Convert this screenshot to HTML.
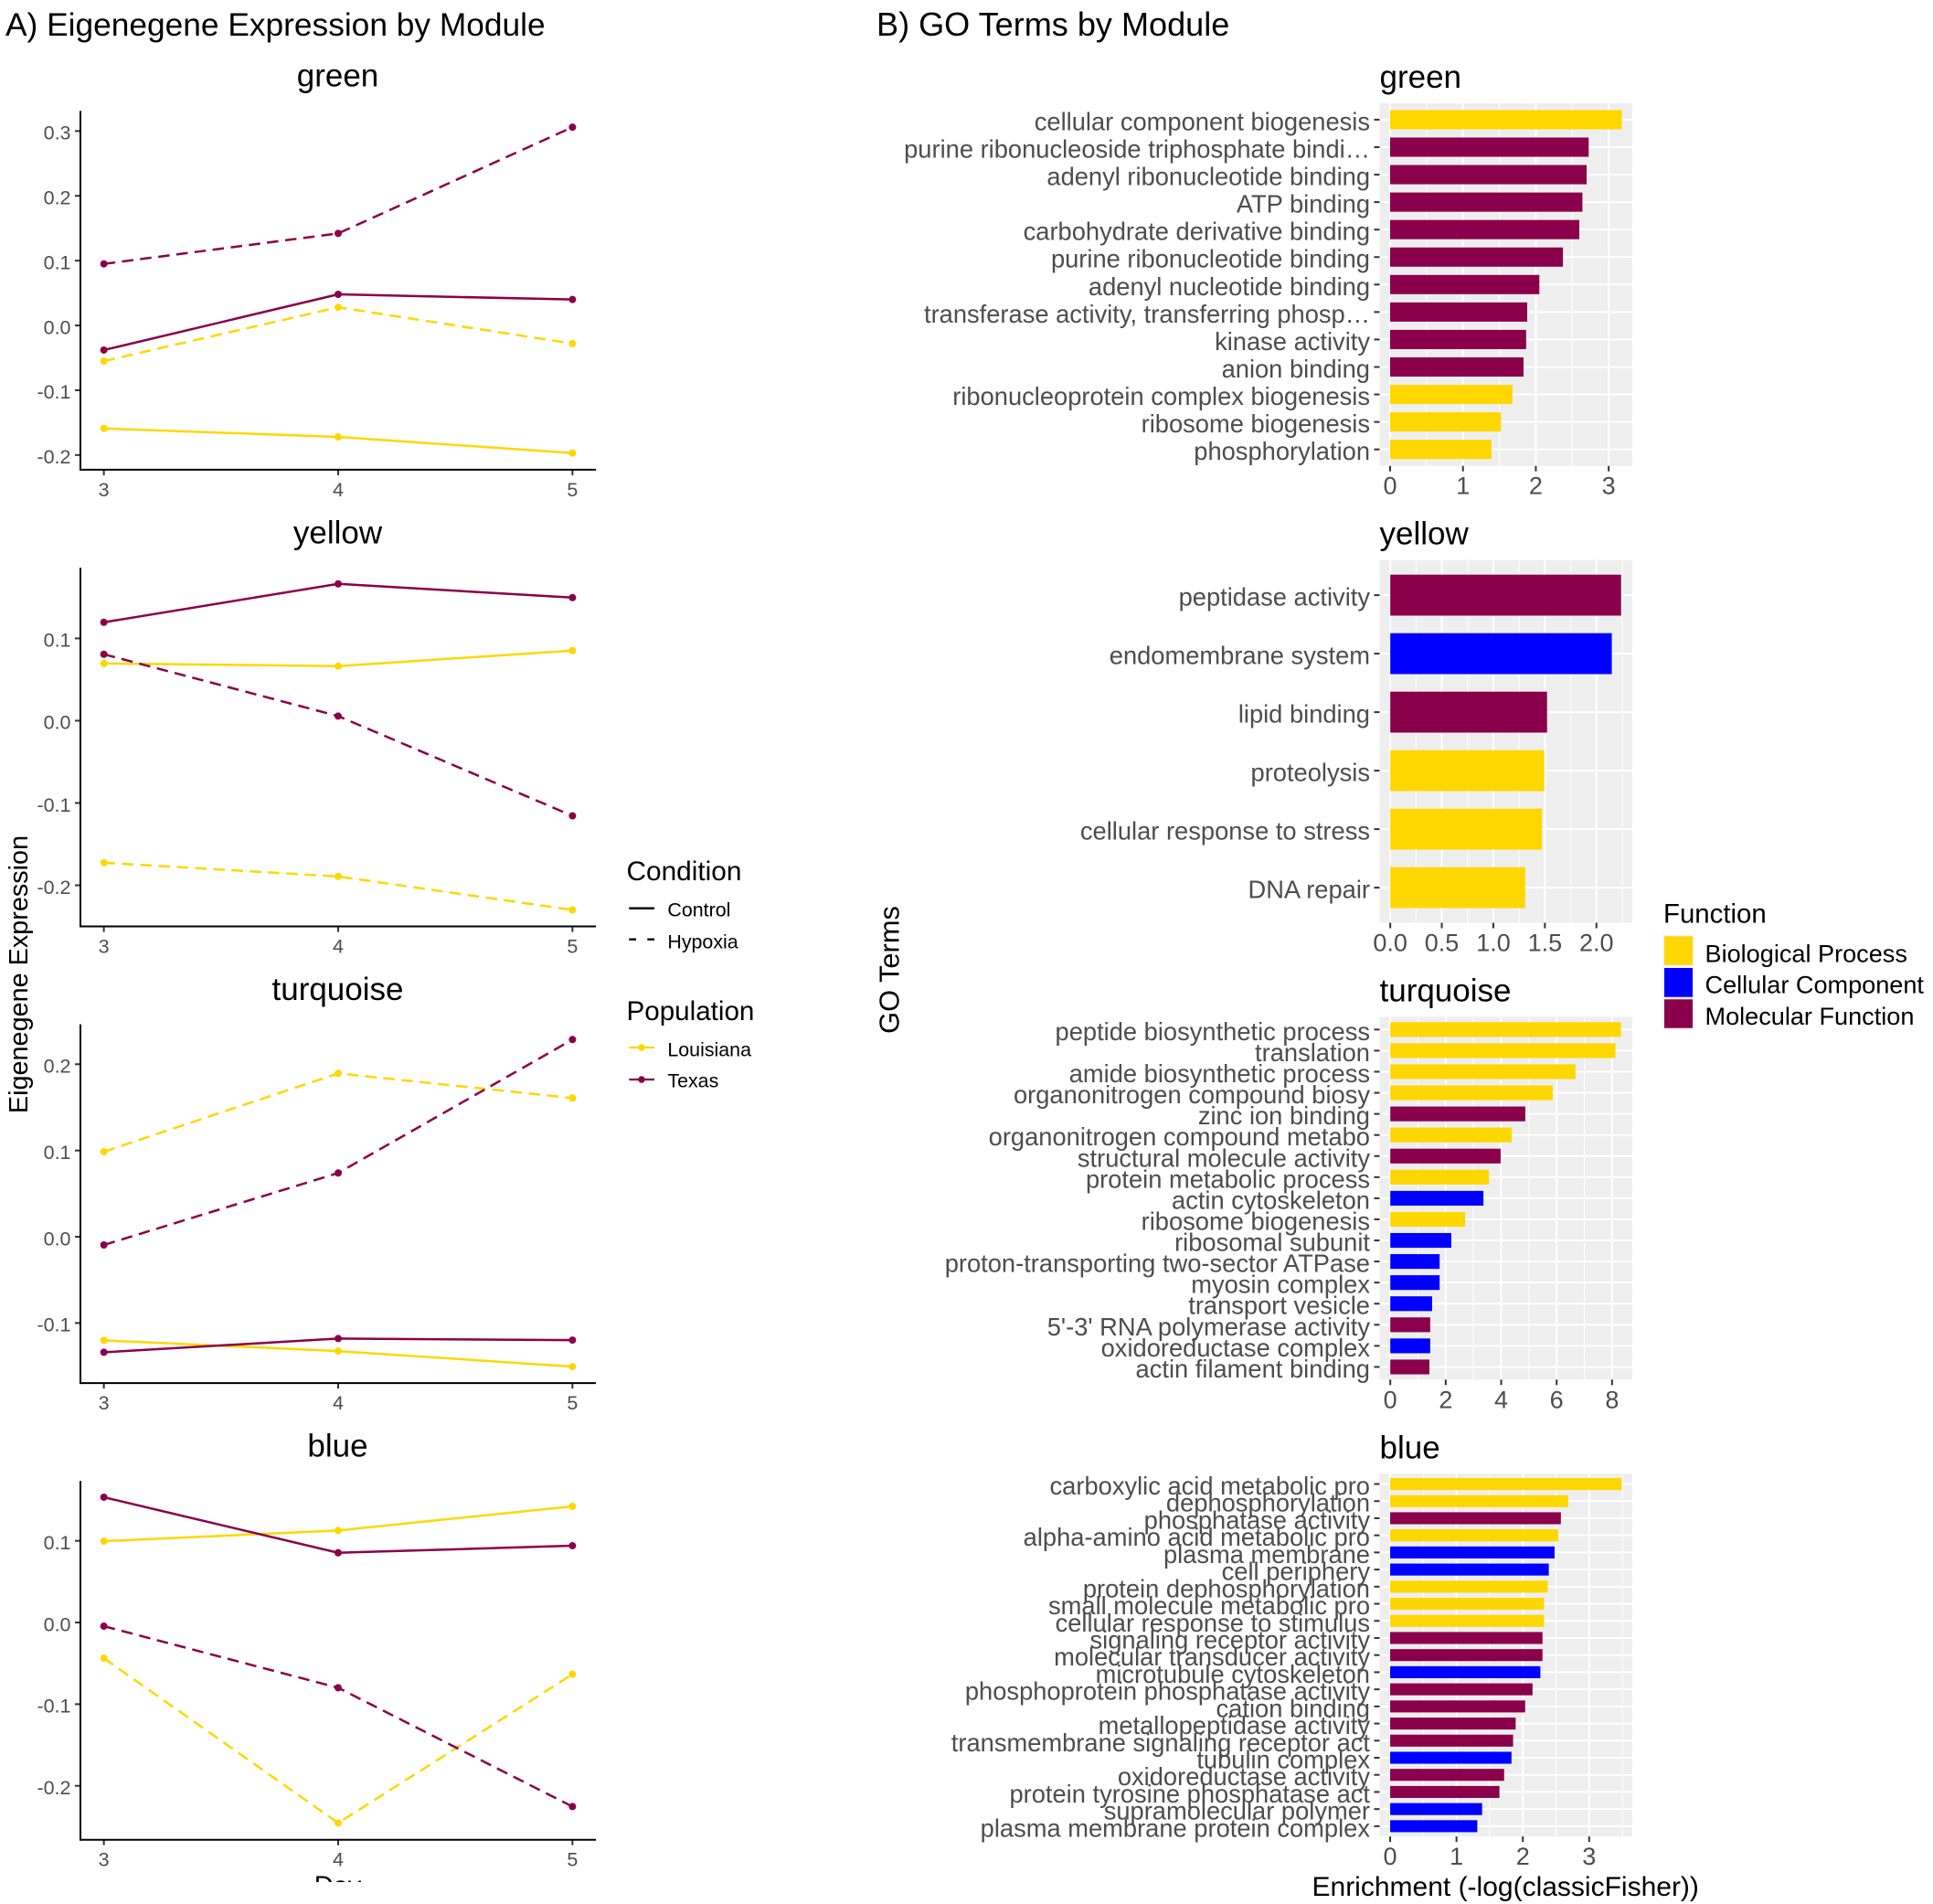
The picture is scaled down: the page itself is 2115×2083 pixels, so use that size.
<!DOCTYPE html>
<html lang="en">
<head>
<meta charset="utf-8">
<title>Eigengene Expression and GO Terms by Module</title>
<style>
html,body{margin:0;padding:0;background:#fff;}
svg{display:block;font-family:"Liberation Sans",Arial,sans-serif;}
</style>
</head>
<body>
<svg id="figure" xmlns="http://www.w3.org/2000/svg" width="2115" height="2083" viewBox="0 0 2115 2083">
  <rect x="0" y="0" width="2115" height="2083" fill="#ffffff"/>
  <text x="6" y="39" font-size="35.3" fill="#000">A) Eigenegene Expression by Module</text>
  <text x="959" y="39" font-size="36.1" fill="#000">B) GO Terms by Module</text>
  <text transform="translate(30 1066) rotate(-90)" text-anchor="middle" font-size="28.8" fill="#000">Eigenegene Expression</text>
  <text transform="translate(983.5 1061) rotate(-90)" text-anchor="middle" font-size="30.8" fill="#000">GO Terms</text>
  <text x="1435.5" y="2074" font-size="30" fill="#000">Enrichment (-log(classicFisher))</text>
  <clipPath id="day-clip"><rect x="300" y="2040" width="140" height="19"/></clipPath>
  <text x="369.5" y="2072.5" text-anchor="middle" font-size="29" fill="#000" clip-path="url(#day-clip)">Day</text>

  <g>
    <text x="685.5" y="963" font-size="29.8" fill="#000">Condition</text>
    <line x1="688.3" y1="993.7" x2="716" y2="993.7" stroke="#000" stroke-width="2.3"/>
    <text x="730.4" y="1002.5" font-size="21.4" fill="#000">Control</text>
    <line x1="688.3" y1="1027.7" x2="716" y2="1027.7" stroke="#000" stroke-width="2.3" stroke-dasharray="7.7 12.3 7.7"/>
    <text x="730.4" y="1037.7" font-size="21.4" fill="#000">Hypoxia</text>
  </g>
  <g>
    <text x="685.5" y="1116" font-size="29.6" fill="#000">Population</text>
    <line x1="688.3" y1="1146" x2="716" y2="1146" stroke="#FFD700" stroke-width="2.3"/>
    <circle cx="702" cy="1146" r="3.7" fill="#FFD700"/>
    <text x="730.4" y="1155.7" font-size="21.4" fill="#000">Louisiana</text>
    <line x1="688.3" y1="1181" x2="716" y2="1181" stroke="#8B004B" stroke-width="2.3"/>
    <circle cx="702" cy="1181" r="3.7" fill="#8B004B"/>
    <text x="730.4" y="1189.7" font-size="21.4" fill="#000">Texas</text>
  </g>
  <g>
    <text x="1820" y="1009.5" font-size="29.4" fill="#000">Function</text>
    <rect x="1819.3" y="1022.5" width="34" height="103.5" fill="#F2F2F2"/>
    <rect x="1821" y="1024.3" width="31" height="31.4" fill="#FFD700"/>
    <text x="1865.5" y="1052.7" font-size="27.1" fill="#000">Biological Process</text>
    <rect x="1821" y="1059" width="31" height="31.7" fill="#0000FF"/>
    <text x="1865.5" y="1086.7" font-size="27.1" fill="#000">Cellular Component</text>
    <rect x="1821" y="1093.3" width="31" height="31.4" fill="#8B004B"/>
    <text x="1865.5" y="1121" font-size="27.1" fill="#000">Molecular Function</text>
  </g>
</svg>

<script>
// ---------- Panel A data ----------
const days = [3, 4, 5];
const dayDomain = [2.9, 5.1];

const greenLouisianaControl = [-0.159, -0.172, -0.197];
const greenLouisianaHypoxia = [-0.055, 0.028, -0.028];
const greenTexasControl = [-0.038, 0.048, 0.040];
const greenTexasHypoxia = [0.095, 0.142, 0.306];
const greenExprTicks = [-0.2, -0.1, 0.0, 0.1, 0.2, 0.3];
const greenExprDomain = [-0.2227, 0.331];

const yellowLouisianaControl = [0.0696, 0.0663, 0.0852];
const yellowLouisianaHypoxia = [-0.1726, -0.1893, -0.23];
const yellowTexasControl = [0.1196, 0.1663, 0.1496];
const yellowTexasHypoxia = [0.0807, 0.0056, -0.1156];
const yellowExprTicks = [-0.2, -0.1, 0.0, 0.1];
const yellowExprDomain = [-0.25, 0.186];

const turquoiseLouisianaControl = [-0.1201, -0.1325, -0.1505];
const turquoiseLouisianaHypoxia = [0.0986, 0.1894, 0.1608];
const turquoiseTexasControl = [-0.1339, -0.118, -0.1198];
const turquoiseTexasHypoxia = [-0.0095, 0.0739, 0.2286];
const turquoiseExprTicks = [-0.1, 0.0, 0.1, 0.2];
const turquoiseExprDomain = [-0.1696, 0.2463];

const blueLouisianaControl = [0.0996, 0.1127, 0.1422];
const blueLouisianaHypoxia = [-0.0437, -0.2455, -0.0634];
const blueTexasControl = [0.1534, 0.0854, 0.094];
const blueTexasHypoxia = [-0.0045, -0.0799, -0.2254];
const blueExprTicks = [-0.2, -0.1, 0.0, 0.1];
const blueExprDomain = [-0.266, 0.1733];

// ---------- Panel B data ----------
const greenTerms = ["cellular component biogenesis","purine ribonucleoside triphosphate bindi…","adenyl ribonucleotide binding","ATP binding","carbohydrate derivative binding","purine ribonucleotide binding","adenyl nucleotide binding","transferase activity, transferring phosp…","kinase activity","anion binding","ribonucleoprotein complex biogenesis","ribosome biogenesis","phosphorylation"];
const greenEnrichment = [3.18, 2.725, 2.697, 2.639, 2.596, 2.372, 2.048, 1.882, 1.867, 1.831, 1.68, 1.521, 1.391];
const greenFunctions = ["BP","MF","MF","MF","MF","MF","MF","MF","MF","MF","BP","BP","BP"];
const greenGoTicks = [0, 1, 2, 3];
const greenGoDomain = [-0.144, 3.324];

const yellowTerms = ["peptidase activity","endomembrane system","lipid binding","proteolysis","cellular response to stress","DNA repair"];
const yellowEnrichment = [2.239, 2.149, 1.521, 1.494, 1.472, 1.309];
const yellowFunctions = ["MF","CC","MF","BP","BP","BP"];
const yellowGoTicks = [0.0, 0.5, 1.0, 1.5, 2.0];
const yellowGoDomain = [-0.1035, 2.348];

const turquoiseTerms = ["peptide biosynthetic process","translation","amide biosynthetic process","organonitrogen compound biosy","zinc ion binding","organonitrogen compound metabo","structural molecule activity","protein metabolic process","actin cytoskeleton","ribosome biogenesis","ribosomal subunit","proton-transporting two-sector ATPase","myosin complex","transport vesicle","5'-3' RNA polymerase activity","oxidoreductase complex","actin filament binding"];
const turquoiseEnrichment = [8.32, 8.12, 6.68, 5.86, 4.87, 4.38, 3.98, 3.56, 3.36, 2.70, 2.20, 1.78, 1.78, 1.51, 1.44, 1.44, 1.41];
const turquoiseFunctions = ["BP","BP","BP","BP","MF","BP","MF","BP","CC","BP","CC","CC","CC","CC","MF","CC","MF"];
const turquoiseGoTicks = [0, 2, 4, 6, 8];
const turquoiseGoDomain = [-0.385, 8.73];

const blueTerms = ["carboxylic acid metabolic pro","dephosphorylation","phosphatase activity","alpha-amino acid metabolic pro","plasma membrane","cell periphery","protein dephosphorylation","small molecule metabolic pro","cellular response to stimulus","signaling receptor activity","molecular transducer activity","microtubule cytoskeleton","phosphoprotein phosphatase activity","cation binding","metallopeptidase activity","transmembrane signaling receptor act","tubulin complex","oxidoreductase activity","protein tyrosine phosphatase act","supramolecular polymer","plasma membrane protein complex"];
const blueEnrichment = [3.49, 2.684, 2.573, 2.534, 2.478, 2.391, 2.375, 2.32, 2.32, 2.296, 2.296, 2.264, 2.146, 2.035, 1.892, 1.853, 1.829, 1.718, 1.647, 1.386, 1.314];
const blueFunctions = ["BP","BP","MF","BP","CC","CC","BP","BP","BP","MF","MF","CC","MF","MF","MF","MF","CC","MF","MF","CC","CC"];
const blueGoTicks = [0, 1, 2, 3];
const blueGoDomain = [-0.159, 3.65];

// ---------- Drawing ----------
const GOLD = "#FFD700", MAROON = "#8B004B", BLUE = "#0000FF";
const functionColors = { BP: GOLD, CC: BLUE, MF: MAROON };
const NS = "http://www.w3.org/2000/svg";
const svg = document.getElementById("figure");

function setAttrs(el, attrs) {
  Object.keys(attrs).forEach(function (k) { el.setAttribute(k, attrs[k]); });
  return el;
}
function linear(domain, range) {
  return function (v) {
    return range[0] + (v - domain[0]) / (domain[1] - domain[0]) * (range[1] - range[0]);
  };
}

function drawLinePanel(name, index, series, ticks, domain) {
  const top = 121.4 + 499.6 * index;
  const bottom = top + 392.5;
  const left = 88, right = 652;
  const xs = linear(dayDomain, [left, right]);
  const ys = linear(domain, [bottom, top]);

  const g = document.createElementNS(NS, "g");
  
  
  svg.appendChild(g);

  const title = document.createElementNS(NS, "text");
  
  
  setAttrs(title, { x: 369.5, y: top - 26.7, "text-anchor": "middle", "font-size": 35, fill: "#000" });
  title.textContent = name;
  g.appendChild(title);

  ticks.forEach(function (t) {
    const tick = document.createElementNS(NS, "line");
    
    
    setAttrs(tick, { x1: left - 6, x2: left, y1: ys(t), y2: ys(t), stroke: "#333", "stroke-width": 2 });
    g.appendChild(tick);
    const lab = document.createElementNS(NS, "text");
    
    
    setAttrs(lab, { x: left - 10.5, y: ys(t) + 9.3, "text-anchor": "end", "font-size": 21.5, fill: "#4D4D4D" });
    lab.textContent = t.toFixed(1);
    g.appendChild(lab);
  });

  days.forEach(function (d) {
    const tick = document.createElementNS(NS, "line");
    
    
    setAttrs(tick, { x1: xs(d), x2: xs(d), y1: bottom, y2: bottom + 6, stroke: "#333", "stroke-width": 2 });
    g.appendChild(tick);
    const lab = document.createElementNS(NS, "text");
    
    
    setAttrs(lab, { x: xs(d), y: bottom + 29, "text-anchor": "middle", "font-size": 21.5, fill: "#4D4D4D" });
    lab.textContent = String(d);
    g.appendChild(lab);
  });

  series.forEach(function (s) {
    const pts = s.values.map(function (v, i) { return xs(days[i]).toFixed(2) + "," + ys(v).toFixed(2); }).join(" ");
    const line = document.createElementNS(NS, "polyline");
    
    
    setAttrs(line, { points: pts, fill: "none", stroke: s.color, "stroke-width": 2.5, "stroke-linejoin": "round" });
    if (s.dashed) line.setAttribute("stroke-dasharray", "12.5 7.5");
    g.appendChild(line);
    s.values.forEach(function (v, i) {
      const c = document.createElementNS(NS, "circle");
      
      
      setAttrs(c, { cx: xs(days[i]), cy: ys(v), r: 4, fill: s.color });
      g.appendChild(c);
    });
  });

  const yAxis = document.createElementNS(NS, "line");
  
  
  setAttrs(yAxis, { x1: left, x2: left, y1: top, y2: bottom + 1, stroke: "#000", "stroke-width": 2 });
  g.appendChild(yAxis);
  const xAxis = document.createElementNS(NS, "line");
  
  
  setAttrs(xAxis, { x1: left, x2: right, y1: bottom, y2: bottom, stroke: "#000", "stroke-width": 2 });
  g.appendChild(xAxis);
}

function drawBarPanel(name, index, terms, values, functions, ticks, domain, decimals) {
  const top = 112.9 + 499.8 * index;
  const bottom = top + 396.8;
  const left = 1509.5, right = 1786;
  const xs = linear(domain, [left, right]);
  const unit = (bottom - top) / (terms.length + 0.2);
  const rowY = function (i) { return top + unit * (0.6 + i); };

  const g = document.createElementNS(NS, "g");
  
  
  svg.appendChild(g);

  const title = document.createElementNS(NS, "text");
  
  
  setAttrs(title, { x: left, y: top - 17, "font-size": 35, fill: "#000" });
  title.textContent = name;
  g.appendChild(title);

  const bg = document.createElementNS(NS, "rect");
  
  
  setAttrs(bg, { x: left, y: top, width: right - left, height: bottom - top, fill: "#EEEEEE" });
  g.appendChild(bg);

  const step = ticks[1] - ticks[0];
  ticks.forEach(function (t) {
    const minorValue = t + step / 2;
    if (xs(minorValue) < right) {
      const minor = document.createElementNS(NS, "line");
      
      
      setAttrs(minor, { x1: xs(minorValue), x2: xs(minorValue), y1: top, y2: bottom, stroke: "#fff", "stroke-width": 1 });
      g.appendChild(minor);
    }
    const major = document.createElementNS(NS, "line");
    
    
    setAttrs(major, { x1: xs(t), x2: xs(t), y1: top, y2: bottom, stroke: "#fff", "stroke-width": 2 });
    g.appendChild(major);
    const tick = document.createElementNS(NS, "line");
    
    
    setAttrs(tick, { x1: xs(t), x2: xs(t), y1: bottom, y2: bottom + 6, stroke: "#333", "stroke-width": 2 });
    g.appendChild(tick);
    const lab = document.createElementNS(NS, "text");
    
    
    setAttrs(lab, { x: xs(t), y: bottom + 31, "text-anchor": "middle", "font-size": 27, fill: "#4D4D4D" });
    lab.textContent = t.toFixed(decimals);
    g.appendChild(lab);
  });

  terms.forEach(function (term, i) {
    const y = rowY(i);
    const grid = document.createElementNS(NS, "line");
    
    
    setAttrs(grid, { x1: left, x2: right, y1: y, y2: y, stroke: "#fff", "stroke-width": 2 });
    g.appendChild(grid);
    const tick = document.createElementNS(NS, "line");
    
    
    setAttrs(tick, { x1: left - 6, x2: left, y1: y, y2: y, stroke: "#333", "stroke-width": 2 });
    g.appendChild(tick);
  });

  terms.forEach(function (term, i) {
    const y = rowY(i);
    const h = unit * 0.7;
    const bar = document.createElementNS(NS, "rect");
    
    
    setAttrs(bar, { x: xs(0), y: y - h / 2, width: xs(values[i]) - xs(0), height: h, fill: functionColors[functions[i]] });
    g.appendChild(bar);
  });

  terms.forEach(function (term, i) {
    const y = rowY(i);
    const lab = document.createElementNS(NS, "text");
    
    
    setAttrs(lab, { x: left - 10.5, y: y + 11.5, "text-anchor": "end", "font-size": 27.3, fill: "#4D4D4D" });
    lab.textContent = term;
    g.appendChild(lab);
  });
}

function moduleSeries(laControl, laHypoxia, txControl, txHypoxia) {
  return [
    { label: "louisiana-control", values: laControl, color: GOLD, dashed: false },
    { label: "louisiana-hypoxia", values: laHypoxia, color: GOLD, dashed: true },
    { label: "texas-control", values: txControl, color: MAROON, dashed: false },
    { label: "texas-hypoxia", values: txHypoxia, color: MAROON, dashed: true }
  ];
}

drawLinePanel("green", 0, moduleSeries(greenLouisianaControl, greenLouisianaHypoxia, greenTexasControl, greenTexasHypoxia), greenExprTicks, greenExprDomain);
drawLinePanel("yellow", 1, moduleSeries(yellowLouisianaControl, yellowLouisianaHypoxia, yellowTexasControl, yellowTexasHypoxia), yellowExprTicks, yellowExprDomain);
drawLinePanel("turquoise", 2, moduleSeries(turquoiseLouisianaControl, turquoiseLouisianaHypoxia, turquoiseTexasControl, turquoiseTexasHypoxia), turquoiseExprTicks, turquoiseExprDomain);
drawLinePanel("blue", 3, moduleSeries(blueLouisianaControl, blueLouisianaHypoxia, blueTexasControl, blueTexasHypoxia), blueExprTicks, blueExprDomain);

drawBarPanel("green", 0, greenTerms, greenEnrichment, greenFunctions, greenGoTicks, greenGoDomain, 0);
drawBarPanel("yellow", 1, yellowTerms, yellowEnrichment, yellowFunctions, yellowGoTicks, yellowGoDomain, 1);
drawBarPanel("turquoise", 2, turquoiseTerms, turquoiseEnrichment, turquoiseFunctions, turquoiseGoTicks, turquoiseGoDomain, 0);
drawBarPanel("blue", 3, blueTerms, blueEnrichment, blueFunctions, blueGoTicks, blueGoDomain, 0);
</script>
</body>
</html>
